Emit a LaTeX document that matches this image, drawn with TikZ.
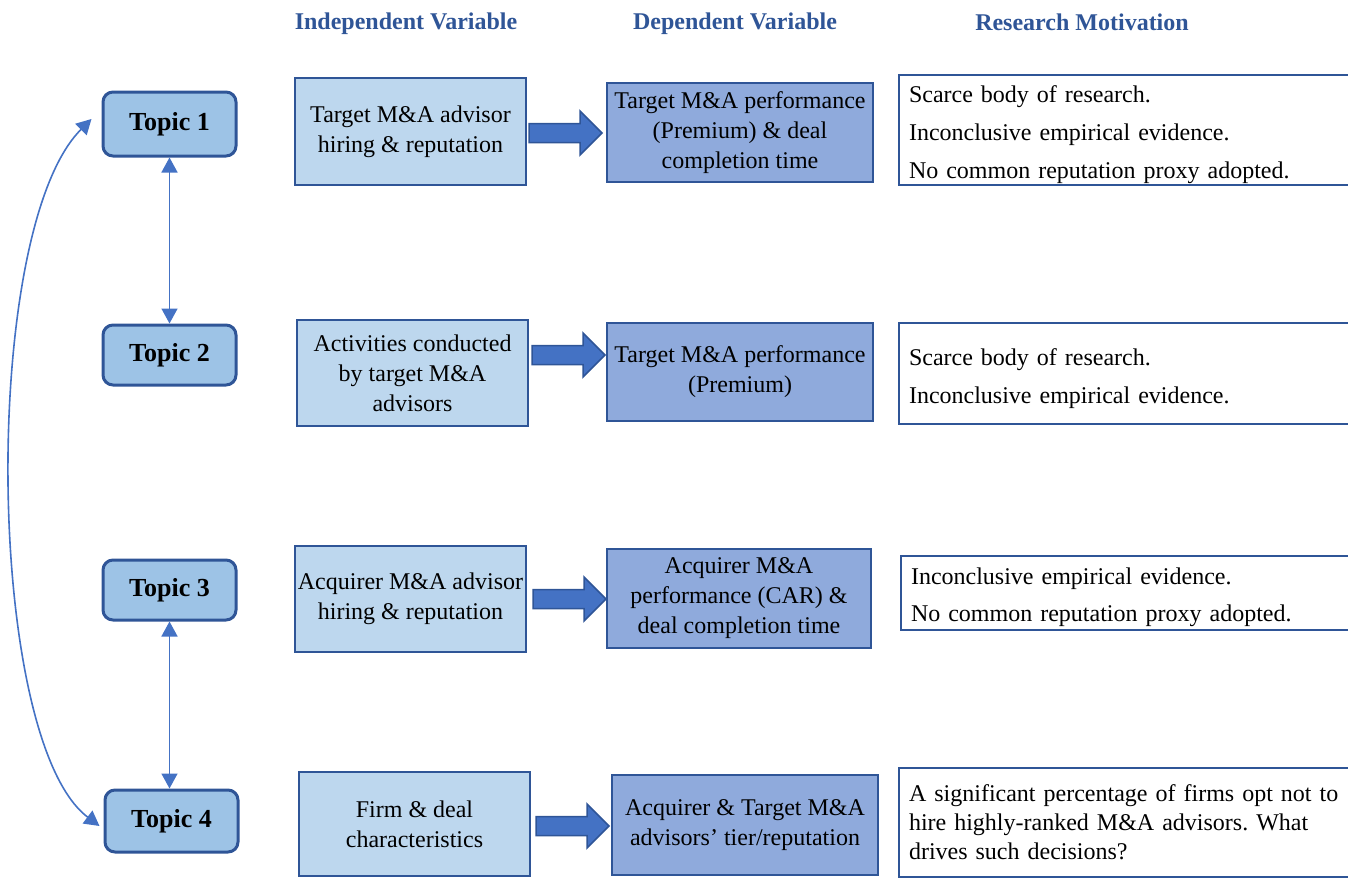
\documentclass[tikz,border=0pt]{standalone}
\usepackage{fontspec}
\setmainfont{Liberation Serif}
\frenchspacing
\usetikzlibrary{arrows.meta,calc}
\definecolor{hdrblue}{HTML}{2F5597}
\definecolor{edgeblue}{HTML}{2F5597}
\definecolor{topicfill}{HTML}{9DC3E6}
\definecolor{ivfill}{HTML}{BDD7EE}
\definecolor{dvfill}{HTML}{8FAADC}
\definecolor{arrowfill}{HTML}{4472C4}
\definecolor{connblue}{HTML}{4472C4}
\begin{document}
\begin{tikzpicture}[x=0.5pt,y=-0.5pt,
  txt/.style={font=\fontsize{12}{15}\selectfont, align=center},
  topic/.style={draw=edgeblue, line width=1.5pt, fill=topicfill, rounded corners=5pt,
    minimum width=66.5pt, inner sep=0pt, font=\fontsize{13}{15}\selectfont\bfseries},
  ivbox/.style={draw=edgeblue, line width=1.2pt, fill=ivfill, minimum width=115.5pt,
    inner sep=0pt, txt},
  dvbox/.style={draw=edgeblue, line width=1.2pt, fill=dvfill, minimum width=133pt,
    inner sep=0pt, txt},
  rmbox/.style={draw=edgeblue, line width=1pt, fill=white, anchor=west, text width=221pt,
    inner xsep=5pt, inner ysep=0pt, align=left},
  hdr/.style={font=\fontsize{12}{14}\selectfont\bfseries, text=hdrblue},
  conn/.style={draw=connblue, line width=0.8pt,
    {Triangle[length=7.5pt,width=8pt]}-{Triangle[length=7.5pt,width=8pt]}},
  barrowstyle/.style={draw=edgeblue, line width=0.75pt, fill=arrowfill, line join=miter},
  barrow/.pic={\path[barrowstyle] (0,-9.5) -- (51,-9.5) -- (51,-22) -- (73,0)
    -- (51,22) -- (51,9.5) -- (0,9.5) -- cycle;}
]
\path[use as bounding box, clip] (0,0) rectangle (1348,878);

% column headings
\node[hdr] (h1) at (406,24) {Independent Variable};
\node[hdr] (h2) at (735,24) {Dependent Variable};
\node[hdr] (h3) at (1082,22) {Research Motivation};

% topics
\node[topic, minimum height=32pt] (t1) at (169.5,124) {Topic 1};
\node[topic, minimum height=30pt] (t2) at (169.5,355) {Topic 2};
\node[topic, minimum height=30pt] (t3) at (169.5,590) {Topic 3};
\node[topic, minimum height=31pt] (t4) at (171.5,821) {Topic 4};

% independent variables
\node[ivbox, minimum height=53.5pt] (iv1) at (410.5,131.5) {Target M\&A advisor\\hiring \& reputation};
\node[ivbox, minimum height=53pt] (iv2) at (412.5,373) {Activities conducted\\by target M\&A\\advisors};
\node[ivbox, minimum height=53pt] (iv3) at (410.5,599) {Acquirer M\&A advisor\\hiring \& reputation};
\node[ivbox, minimum height=52pt] (iv4) at (414.5,824) {Firm \& deal\\characteristics};

% dependent variables
\node[dvbox, minimum height=49.5pt] (dv1) at (740,132.5) {Target M\&A performance\\(Premium) \& deal\\completion time};
\node[dvbox, minimum height=49pt] (dv2) at (740,372) {Target M\&A performance\\(Premium)};
\node[dvbox, minimum width=132pt, minimum height=49.5pt] (dv3) at (739,598.5) {Acquirer M\&A\\performance (CAR) \&\\deal completion time};
\node[dvbox, minimum height=50pt] (dv4) at (745,825) {Acquirer \& Target M\&A\\advisors’ tier/reputation};

% block arrows from each variable to its outcome
\coordinate (a1) at (529,133);
\coordinate (a2) at (532,355);
\coordinate (a3) at (533,599);
\coordinate (a4) at (536,826);
\pic at (a1) {barrow};
\pic at (a2) {barrow};
\pic at (a3) {barrow};
\pic at (a4) {barrow};

% research motivation
\node[rmbox, minimum height=55pt, font=\fontsize{12}{19}\selectfont] (rm1) at (898,130)
  {\strut Scarce body of research.\\Inconclusive empirical evidence.\\No common reputation proxy adopted.};
\node[rmbox, minimum height=50.5pt, font=\fontsize{12}{19}\selectfont] (rm2) at (898,373.5)
  {\strut Scarce body of research.\\Inconclusive empirical evidence.};
\node[rmbox, minimum height=37pt, font=\fontsize{12}{18.5}\selectfont] (rm3) at (900,593)
  {\strut Inconclusive empirical evidence.\\No common reputation proxy adopted.};
\node[rmbox, minimum height=54.5pt, font=\fontsize{12}{14.5}\selectfont] (rm4) at (898,822.5)
  {A significant percentage of firms opt not to\\hire highly-ranked M\&A advisors. What\\drives such decisions?};

% links between topics
\draw[conn] (t1.south) -- (t2.north);
\draw[conn] (t3.south) -- (t3.south |- t4.north);
\draw[conn] ([shift={(-4,5)}]t4.west) .. controls (-15,740) and (-20,230) .. ([shift={(-10,-5)}]t1.west);
\end{tikzpicture}
\end{document}
